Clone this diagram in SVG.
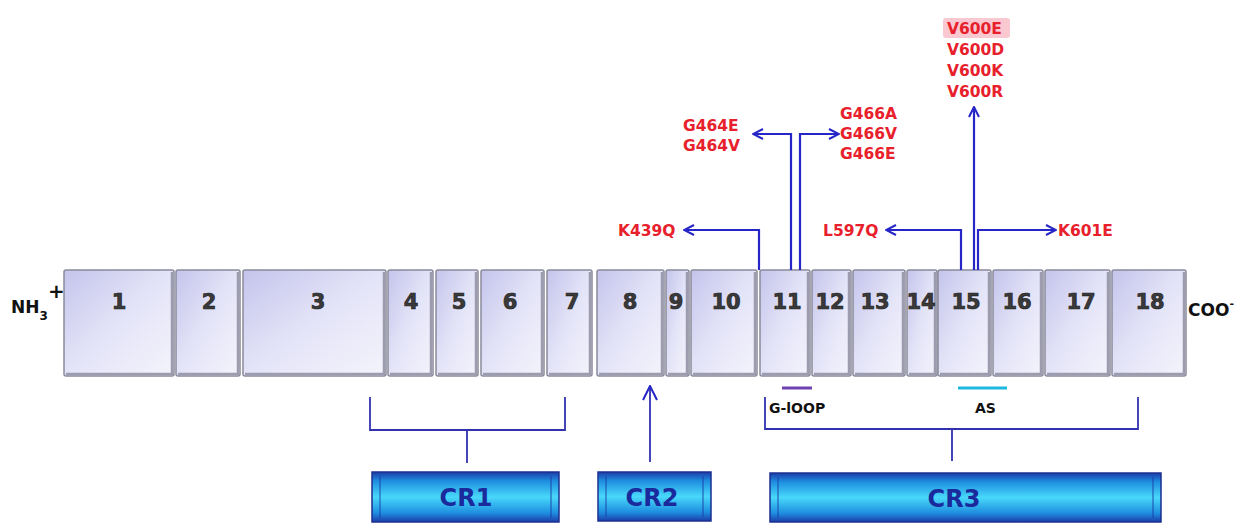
<svg xmlns="http://www.w3.org/2000/svg" width="1249" height="525" viewBox="0 0 1249 525">
<defs>
<linearGradient id="boxg" x1="0" y1="0" x2="1" y2="1">
<stop offset="0" stop-color="#c4c4ec"/>
<stop offset="0.5" stop-color="#e4e4f8"/>
<stop offset="1" stop-color="#f4f4fc"/>
</linearGradient>
<linearGradient id="crg" x1="0" y1="0" x2="0" y2="1">
<stop offset="0" stop-color="#1c3ca8"/>
<stop offset="0.18" stop-color="#1e8ee0"/>
<stop offset="0.5" stop-color="#48d8fa"/>
<stop offset="0.82" stop-color="#1e8ee0"/>
<stop offset="1" stop-color="#1c3ca8"/>
</linearGradient>
<marker id="ah" viewBox="0 0 12 12" refX="11" refY="6" markerWidth="12" markerHeight="12" markerUnits="userSpaceOnUse" orient="auto">
<path d="M1,1 L11,6 L1,11" fill="none" stroke="#2626c8" stroke-width="2"/>
</marker>
<marker id="ahl" viewBox="0 0 16 16" refX="15" refY="8" markerWidth="16" markerHeight="16" markerUnits="userSpaceOnUse" orient="auto">
<path d="M1,1 L15,8 L1,15" fill="none" stroke="#2626c8" stroke-width="2"/>
</marker>
<style>
.box{fill:url(#boxg);stroke:#8a8a9a;stroke-width:1.5}
.bev{fill:none;stroke:#9c9cae;stroke-width:2.5}
.num{font-family:"DejaVu Sans",Verdana,sans-serif;font-weight:bold;font-size:21px;fill:#3a3a3a;stroke:#222;stroke-width:0.7;text-anchor:middle}
.mut{font-family:"DejaVu Sans",Verdana,sans-serif;font-weight:bold;font-size:15.5px;fill:#e8202c}
.ln{fill:none;stroke:#2626c8;stroke-width:2.2}
.br{fill:none;stroke:#3232b0;stroke-width:1.8}
.cr{fill:url(#crg);stroke:#1c3090;stroke-width:1.5}
.crt{font-family:"DejaVu Sans",Verdana,sans-serif;font-weight:bold;font-size:24px;fill:#1a2a9c;text-anchor:middle}
.lbl{font-family:"DejaVu Sans",Verdana,sans-serif;font-weight:bold;fill:#111}
</style>
</defs>
<rect width="1249" height="525" fill="#ffffff"/>
<g id="termini">
<text class="lbl" x="11" y="313" font-size="17">NH<tspan font-size="12" dy="7">3</tspan></text>
<text class="lbl" x="48" y="298" font-size="20">+</text>
<text class="lbl" x="1188" y="316" font-size="17">COO<tspan font-size="11" dy="-9">-</tspan></text>
</g>
<g id="exons">
<g id="e1"><rect class="box" x="64" y="270" width="110" height="106" rx="2"/><path class="bev" d="M66,374 H172 V272"/><text class="num" x="119" y="309">1</text></g>
<g id="e2"><rect class="box" x="176" y="270" width="64" height="106" rx="2"/><path class="bev" d="M178,374 H238 V272"/><text class="num" x="209" y="309">2</text></g>
<g id="e3"><rect class="box" x="243" y="270" width="143" height="106" rx="2"/><path class="bev" d="M245,374 H384 V272"/><text class="num" x="318" y="309">3</text></g>
<g id="e4"><rect class="box" x="388" y="270" width="45" height="106" rx="2"/><path class="bev" d="M390,374 H431 V272"/><text class="num" x="411" y="309">4</text></g>
<g id="e5"><rect class="box" x="436" y="270" width="42" height="106" rx="2"/><path class="bev" d="M438,374 H476 V272"/><text class="num" x="459" y="309">5</text></g>
<g id="e6"><rect class="box" x="481" y="270" width="63" height="106" rx="2"/><path class="bev" d="M483,374 H542 V272"/><text class="num" x="510" y="309">6</text></g>
<g id="e7"><rect class="box" x="547" y="270" width="45" height="106" rx="2"/><path class="bev" d="M549,374 H590 V272"/><text class="num" x="572" y="309">7</text></g>
<g id="e8"><rect class="box" x="597" y="270" width="67" height="106" rx="2"/><path class="bev" d="M599,374 H662 V272"/><text class="num" x="630" y="309">8</text></g>
<g id="e9"><rect class="box" x="666" y="270" width="23" height="106" rx="2"/><path class="bev" d="M668,374 H687 V272"/><text class="num" x="676" y="309">9</text></g>
<g id="e10"><rect class="box" x="691" y="270" width="66" height="106" rx="2"/><path class="bev" d="M693,374 H755 V272"/><text class="num" x="726" y="309">10</text></g>
<g id="e11"><rect class="box" x="760" y="270" width="50" height="106" rx="2"/><path class="bev" d="M762,374 H808 V272"/><text class="num" x="787" y="309">11</text></g>
<g id="e12"><rect class="box" x="812" y="270" width="39" height="106" rx="2"/><path class="bev" d="M814,374 H849 V272"/><text class="num" x="830" y="309">12</text></g>
<g id="e13"><rect class="box" x="853" y="270" width="52" height="106" rx="2"/><path class="bev" d="M855,374 H903 V272"/><text class="num" x="875" y="309">13</text></g>
<g id="e14"><rect class="box" x="907" y="270" width="30" height="106" rx="2"/><path class="bev" d="M909,374 H935 V272"/><text class="num" x="921" y="309">14</text></g>
<g id="e15"><rect class="box" x="938" y="270" width="53" height="106" rx="2"/><path class="bev" d="M940,374 H989 V272"/><text class="num" x="966" y="309">15</text></g>
<g id="e16"><rect class="box" x="993" y="270" width="50" height="106" rx="2"/><path class="bev" d="M995,374 H1041 V272"/><text class="num" x="1017" y="309">16</text></g>
<g id="e17"><rect class="box" x="1045" y="270" width="65" height="106" rx="2"/><path class="bev" d="M1047,374 H1108 V272"/><text class="num" x="1081" y="309">17</text></g>
<g id="e18"><rect class="box" x="1112" y="270" width="74" height="106" rx="2"/><path class="bev" d="M1114,374 H1184 V272"/><text class="num" x="1150" y="309">18</text></g>
</g>
<g id="mutations">
<text class="mut" x="618" y="236">K439Q</text>
<text class="mut" x="683" y="131">G464E</text>
<text class="mut" x="683" y="151">G464V</text>
<text class="mut" x="840" y="119">G466A</text>
<text class="mut" x="840" y="139">G466V</text>
<text class="mut" x="840" y="159">G466E</text>
<rect x="943" y="18" width="67" height="20" rx="3" fill="#f8b0bc" opacity="0.7"/>
<text class="mut" x="947" y="34">V600E</text>
<text class="mut" x="947" y="55">V600D</text>
<text class="mut" x="947" y="76">V600K</text>
<text class="mut" x="947" y="97">V600R</text>
<text class="mut" x="823" y="236">L597Q</text>
<text class="mut" x="1058" y="236">K601E</text>
</g>
<g id="connectors">
<path class="ln" d="M759,270 V230 H684" marker-end="url(#ah)"/>
<path class="ln" d="M791,270 V134 H753" marker-end="url(#ah)"/>
<path class="ln" d="M800,270 V134 H839" marker-end="url(#ah)"/>
<path class="ln" d="M961,270 V230 H886" marker-end="url(#ah)"/>
<path class="ln" d="M974,270 V107" marker-end="url(#ah)"/>
<path class="ln" d="M978,270 V230 H1056" marker-end="url(#ah)"/>
<path class="br" d="M370,397 V430 H565 V397 M467,430 V463"/>
<path class="br" d="M650,462 V386" marker-end="url(#ahl)"/>
<path class="br" d="M765,397 V429 H1138 V397 M952,429 V461"/>
</g>
<g id="motifs">
<line x1="782" y1="388" x2="812" y2="388" stroke="#7040b0" stroke-width="3"/>
<text class="lbl" x="769" y="413" font-size="14">G-lOOP</text>
<line x1="958" y1="388" x2="1007" y2="388" stroke="#20b8e0" stroke-width="3"/>
<text class="lbl" x="975" y="413" font-size="14">AS</text>
</g>
<g id="CR1"><rect class="cr" x="372" y="472" width="187" height="50"/><line x1="380" y1="476" x2="380" y2="518" stroke="#1c3ca8" stroke-width="1.5" opacity="0.6"/><line x1="551" y1="476" x2="551" y2="518" stroke="#1c3ca8" stroke-width="1.5" opacity="0.6"/><text class="crt" x="466" y="506">CR1</text></g>
<g id="CR2"><rect class="cr" x="598" y="472" width="113" height="49"/><line x1="606" y1="476" x2="606" y2="517" stroke="#1c3ca8" stroke-width="1.5" opacity="0.6"/><line x1="703" y1="476" x2="703" y2="517" stroke="#1c3ca8" stroke-width="1.5" opacity="0.6"/><text class="crt" x="652" y="506">CR2</text></g>
<g id="CR3"><rect class="cr" x="770" y="473" width="391" height="49"/><line x1="778" y1="477" x2="778" y2="518" stroke="#1c3ca8" stroke-width="1.5" opacity="0.6"/><line x1="1153" y1="477" x2="1153" y2="518" stroke="#1c3ca8" stroke-width="1.5" opacity="0.6"/><text class="crt" x="954" y="507">CR3</text></g>
</svg>
